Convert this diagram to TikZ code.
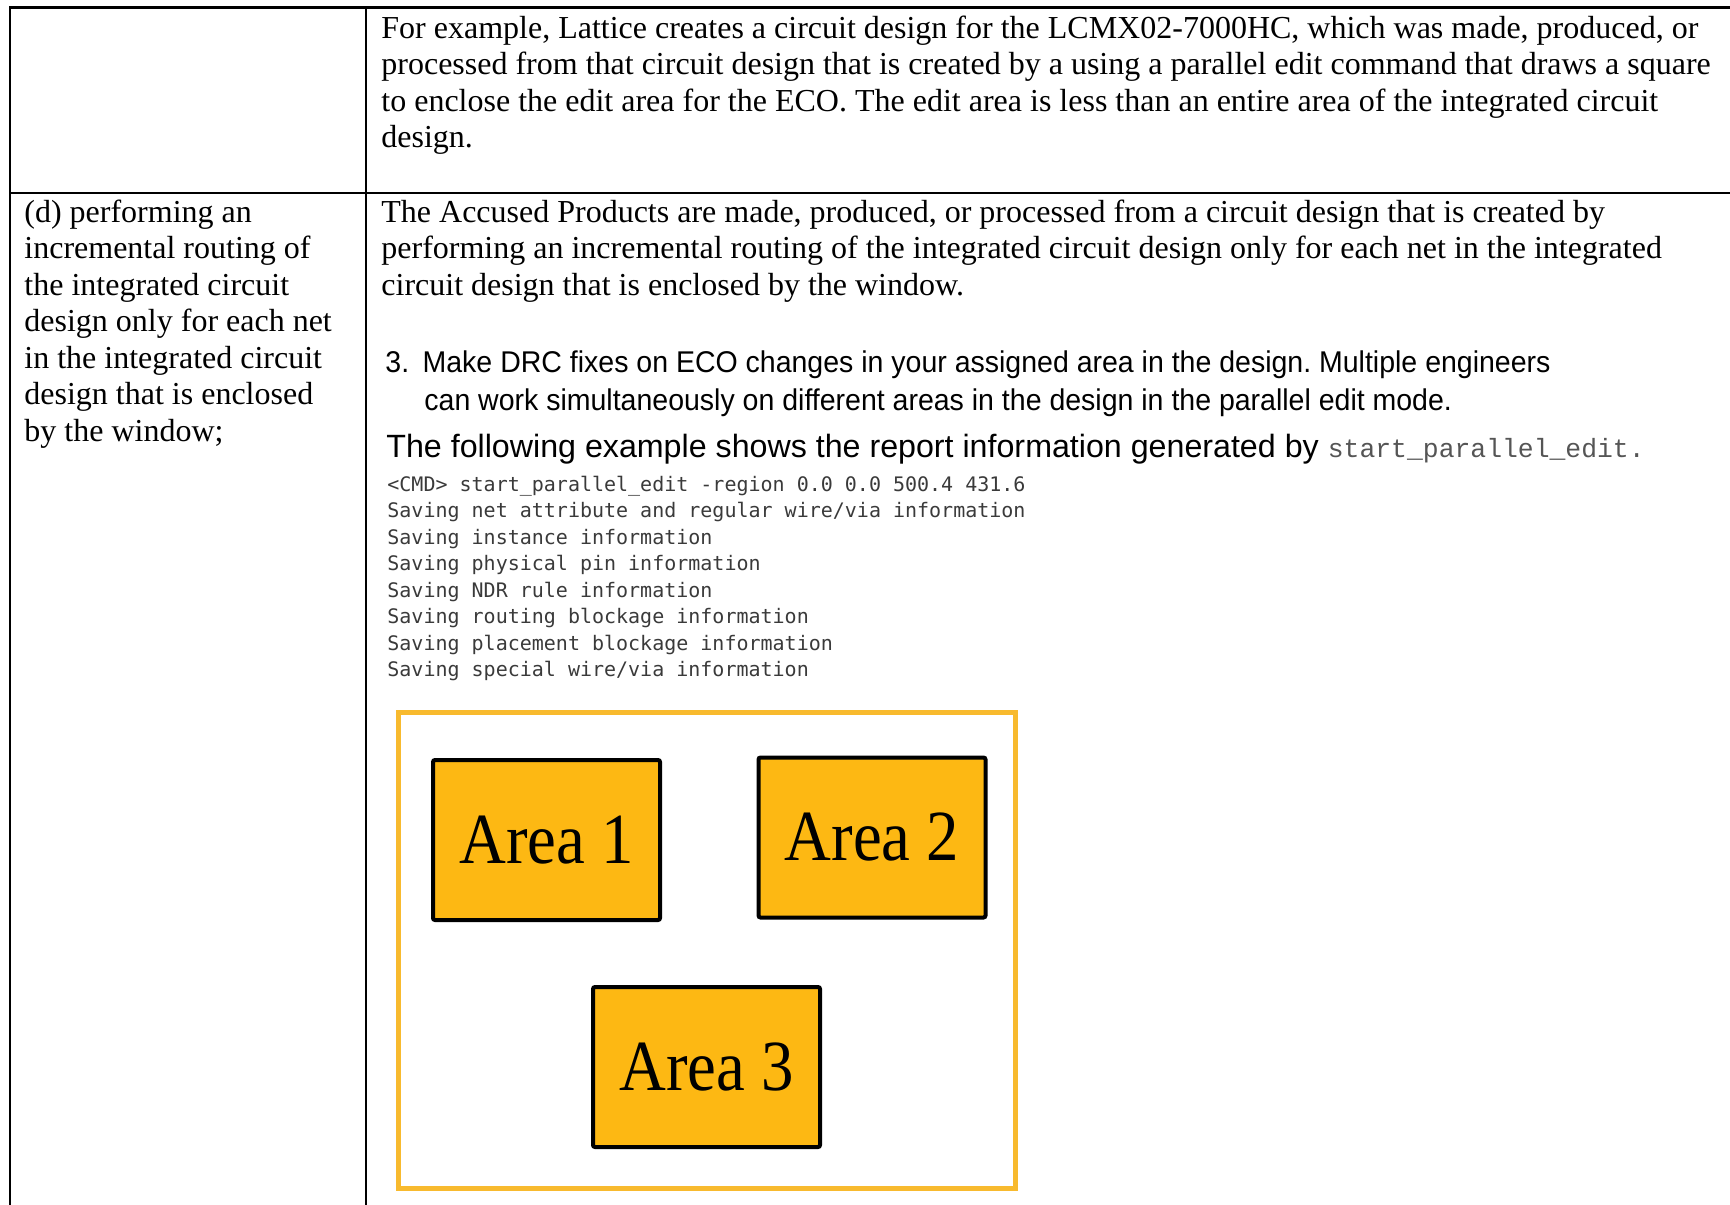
\documentclass[tikz,border=0pt]{standalone}
\usepackage{fontspec}
\setmainfont{Liberation Serif}
\setsansfont{Liberation Sans}
\setmonofont{Liberation Mono}
\newfontfamily\logfont{DejaVu Sans Mono}
\newfontfamily\areafont[FakeStretch=0.9]{Liberation Serif}
\newfontfamily\manfont[FakeStretch=0.95]{Liberation Sans}
\usetikzlibrary{positioning}
\frenchspacing
\definecolor{areafill}{HTML}{FDB813}
\definecolor{frameorange}{HTML}{F8BA2E}
\definecolor{loggray}{HTML}{3A3A3A}
\definecolor{cmdgray}{HTML}{555555}
\tikzset{
  tablerule/.style={draw=black, line width=1.1pt},
  claimtext/.style={anchor=base west, inner sep=0pt, align=left,
    font=\fontsize{16}{18.25}\selectfont},
  mantext/.style={anchor=base west, inner sep=0pt, align=left,
    font=\manfont\fontsize{15}{19}\selectfont},
  logtext/.style={anchor=base west, inner sep=0pt, align=left, text=loggray,
    font=\logfont\fontsize{10}{13.25}\selectfont},
  areabox/.style={draw=black, line width=2pt, rounded corners=1pt, fill=areafill,
    minimum width=113.5pt, minimum height=80pt, inner sep=0pt,
    font=\areafont\fontsize{36}{40}\selectfont}
}
\begin{document}
\begin{tikzpicture}[x=0.5pt, y=-0.5pt]
  \useasboundingbox (0,0) rectangle (1730,1205);
  % table rules
  \draw[tablerule] (1730,7.5) -- (9.7,7.5) -- (9.7,1205);
  \draw[tablerule] (9.7,193) -- (1730,193);
  \draw[tablerule] (366,7.5) -- (366,1205);
  % first row (base = last line)
  \node[claimtext] (example) at (381,147.5) {For example, Lattice creates a circuit design for the LCMX02-7000HC, which was made, produced, or\\
    processed from that circuit design that is created by a using a parallel edit command that draws a square\\
    to enclose the edit area for the ECO. The edit area is less than an entire area of the integrated circuit\\
    design.};
  % second row
  \node[claimtext] (claim) at (24,441) {(d) performing an\\
    incremental routing of\\
    the integrated circuit\\
    design only for each net\\
    in the integrated circuit\\
    design that is enclosed\\
    by the window;};
  \node[claimtext] (accused) at (381,295) {The Accused Products are made, produced, or processed from a circuit design that is created by\\
    performing an incremental routing of the integrated circuit design only for each net in the integrated\\
    circuit design that is enclosed by the window.};
  \node[mantext] (step) at (385,372) {3.\hspace{0.45em}Make DRC fixes on ECO changes in your assigned area in the design. Multiple engineers};
  \node[mantext] (stepcont) at (424,410) {can work simultaneously on different areas in the design in the parallel edit mode.};
  \node[mantext, font=\sffamily\fontsize{16.1}{19}\selectfont] (report) at (386,457) {The following example shows the report information generated by {\ttfamily\color{cmdgray}\fontsize{13.2}{15}\selectfont start\_parallel\_edit.}};
  \node[logtext] (log) at (387,676.5) {<CMD> start\_parallel\_edit -region 0.0 0.0 500.4 431.6\\
    Saving net attribute and regular wire/via information\\
    Saving instance information\\
    Saving physical pin information\\
    Saving NDR rule information\\
    Saving routing blockage information\\
    Saving placement blockage information\\
    Saving special wire/via information};
  % edit areas
  \draw[frameorange, line width=2.5pt] (398,712.5) rectangle (1015,1188);
  \node[areabox] (area1) at (546.5,840) {Area 1};
  \node[areabox] (area2) at (872,837.5) {Area 2};
  \node[areabox] (area3) at (706.5,1067) {Area 3};
\end{tikzpicture}
\end{document}
